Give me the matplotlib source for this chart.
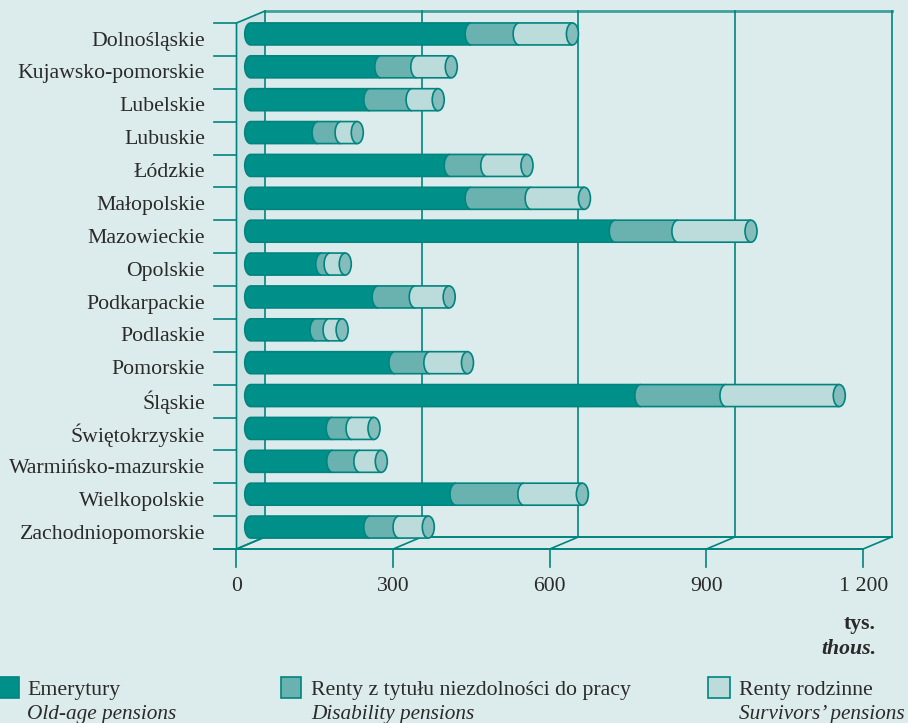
import numpy as np
import matplotlib.pyplot as plt
from matplotlib.patches import Ellipse, Polygon, Rectangle

regions = ['Dolnośląskie', 'Kujawsko-pomorskie', 'Lubelskie', 'Lubuskie', 'Łódzkie', 'Małopolskie',
           'Mazowieckie', 'Opolskie', 'Podkarpackie', 'Podlaskie', 'Pomorskie', 'Śląskie',
           'Świętokrzyskie', 'Warmińsko-mazurskie', 'Wielkopolskie', 'Zachodniopomorskie']
old_age = [422, 249, 228, 129, 382, 422, 698, 136, 244, 125, 276, 747, 156, 157, 393, 228]
disability = [92, 69, 81, 44, 70, 115, 120, 16, 71, 25, 67, 163, 38, 52, 130, 56]
survivors = [102, 66, 50, 31, 77, 102, 140, 29, 65, 25, 72, 217, 42, 41, 112, 56]
x_ticks = [0, 300, 600, 900, 1200]
x_labels = ['0', '300', '600', '900', '1 200']

BG = '#dcebeb'
WALL = '#cfe2e4'
LINE = '#00847f'
TEXT = '#2a2a2a'
COLORS = ['#00908a', '#69b2b0', '#bcdbdb']
CAP = '#85bdbd'
FONT = 'Liberation Serif'
FS = 15.7
FS_IT = 15.3

W, H = 908, 723
PX_X = 0.5222      # pixels per thousand
PX_Y = 32.875      # pixels per row
X0, Y0 = 236.5, 23

fig = plt.figure(figsize=(W / 100, H / 100), dpi=100, facecolor=BG)
ax = fig.add_axes([0, 0, 1, 1])
ax.set_xlim(-X0 / PX_X, (W - X0) / PX_X)
ax.set_ylim((H - Y0) / PX_Y, -Y0 / PX_Y)
ax.axis('off')

# depth of the box, in data units
DX = 28.5 / PX_X
DY = -12 / PX_Y
n = len(regions)
xmax = x_ticks[-1]

# left wall
ax.add_patch(Polygon([(0, 0), (DX, DY), (DX, n + DY), (0, n)], fc=WALL, ec='none', zorder=1))
ax.plot([0, 0, DX], [n, 0, DY], color=LINE, lw=1.2, zorder=2)
ax.plot([0, DX], [n, n + DY], color=LINE, lw=1.2, zorder=2)

# back wall
ax.plot([DX, xmax + DX], [DY, DY], color='#3fa09c', lw=2, zorder=2)
ax.plot([DX, xmax + DX], [n + DY, n + DY], color=LINE, lw=1.4, zorder=2)
for t, label in zip(x_ticks, x_labels):
    ax.plot([t + DX, t + DX], [DY, n + DY], color=LINE, lw=1.2, zorder=2)
    ax.plot([t, t + DX], [n, n + DY], color=LINE, lw=1.2, zorder=2)
    ax.plot([t, t], [n, n + 18 / PX_Y], color=LINE, lw=1.2, zorder=2)
    ax.text(t, n + 37.5 / PX_Y, label, ha='center', va='center', family=FONT, fontsize=FS, color=TEXT)

# floor edge and category ticks
ax.plot([-22 / PX_X, xmax], [n, n], color=LINE, lw=1.4, zorder=2)
for i in range(n):
    ax.plot([-22 / PX_X, 0], [i, i], color=LINE, lw=1.2, zorder=2)
    ax.text(-31.5 / PX_X, i + 0.55, regions[i], ha='right', va='center', family=FONT, fontsize=FS, color=TEXT)

# stacked cylinders, each one sits halfway into the box
bar_x = DX / 2
bar_h = 22 / PX_Y
cap_w = 12 / PX_X
theta = np.linspace(np.pi / 2, 3 * np.pi / 2, 30)


def segment(start, value, yc, color, z):
    # left end is a half ellipse, the right end stays open under the next segment
    xs = start + cap_w / 2 * np.cos(theta)
    ys = yc - bar_h / 2 * np.sin(theta)
    xs = np.concatenate([[start + value], xs, [start + value]])
    ys = np.concatenate([[yc - bar_h / 2], ys, [yc + bar_h / 2]])
    ax.fill(xs, ys, fc=color, ec='none', zorder=z)
    ax.plot(xs, ys, color=LINE, lw=1.2, zorder=z, solid_capstyle='butt')


for i in range(n):
    yc = i + 0.5 + DY / 2 + 0.5 / PX_Y
    start = bar_x
    z = 3
    for value, color in zip([old_age[i], disability[i], survivors[i]], COLORS):
        segment(start, value, yc, color, z)
        start += value
        z += 1
    ax.add_patch(Ellipse((start, yc), cap_w, bar_h, fc=CAP, ec=LINE, lw=1.2, zorder=z))

# unit label
ax.text((876 - X0) / PX_X, (623.5 - Y0) / PX_Y, 'tys.', ha='right', va='center', family=FONT,
        fontsize=FS, fontweight='bold', color=TEXT)
ax.text((876 - X0) / PX_X, (649 - Y0) / PX_Y, 'thous.', ha='right', va='center', family=FONT,
        fontsize=FS, fontweight='bold', style='italic', color=TEXT)

# legend
legend_items = [(-1, 19, 27, 'Emerytury', 'Old-age pensions', COLORS[0]),
                (281, 301, 311, 'Renty z tytułu niezdolności do pracy', 'Disability pensions', COLORS[1]),
                (708, 730, 739, 'Renty rodzinne', 'Survivors’ pensions', COLORS[2])]
for left, right, tx, pl, en, color in legend_items:
    ax.add_patch(Rectangle(((left - X0) / PX_X, (677 - Y0) / PX_Y), (right - left) / PX_X, 21 / PX_Y,
                           fc=color, ec=LINE, lw=1.2, zorder=3))
    ax.text((tx - X0) / PX_X, (691 - Y0) / PX_Y, pl, ha='left', va='center', family=FONT, fontsize=FS, color=TEXT)
    ax.text((tx - X0) / PX_X, (714 - Y0) / PX_Y, en, ha='left', va='center', family=FONT, fontsize=FS_IT,
            style='italic', color=TEXT)

fig.savefig('out.png', dpi=100, facecolor=BG)
